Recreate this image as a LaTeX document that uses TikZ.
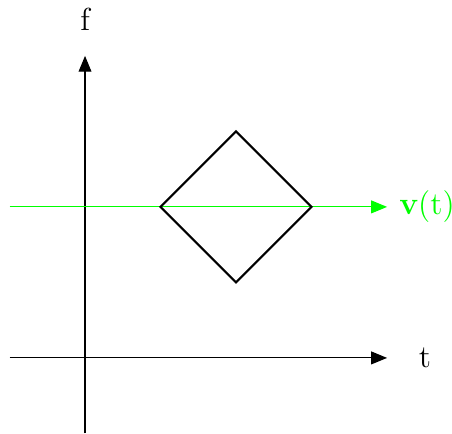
\documentclass[tikz,border=0pt]{standalone}
\usepackage{tikz}
\usetikzlibrary{arrows.meta,positioning}

\begin{document}
\begin{tikzpicture}[
  axis/.style={line width=0.4pt,-{Triangle[length=2.1mm,width=1.7mm]}},
  sig/.style={green,line width=0.4pt,-{Triangle[length=2.1mm,width=1.7mm]}},
  lab/.style={font=\large,inner sep=1pt}]
\useasboundingbox (-1.126,-1.007) rectangle (4.86,4.74);
% axes
\coordinate (tl) at (-1,0);
\coordinate (tr) at (4,0);
\coordinate (fb) at (0,-1);
\coordinate (ft) at (0,4);
\draw[axis] (tl) -- (tr);
\draw[axis] (fb) -- (ft);
\node[lab] (tlab) at (4.5,0) {t};
\node[lab] (flab) at (0,4.48) {f};
% signal line
\coordinate (vl) at (-1,2);
\coordinate (vr) at (4,2);
\draw[sig] (vl) -- (vr);
\node[lab,green,anchor=west] (vlab) at (4.12,2) {\textbf{v}(t)};
% diamond
\coordinate (dw) at (1,2);
\coordinate (dn) at (2,3);
\coordinate (de) at (3,2);
\coordinate (ds) at (2,1);
\draw[line width=0.8pt] (dw) -- (dn) -- (de) -- (ds) -- cycle;
\end{tikzpicture}
\end{document}
